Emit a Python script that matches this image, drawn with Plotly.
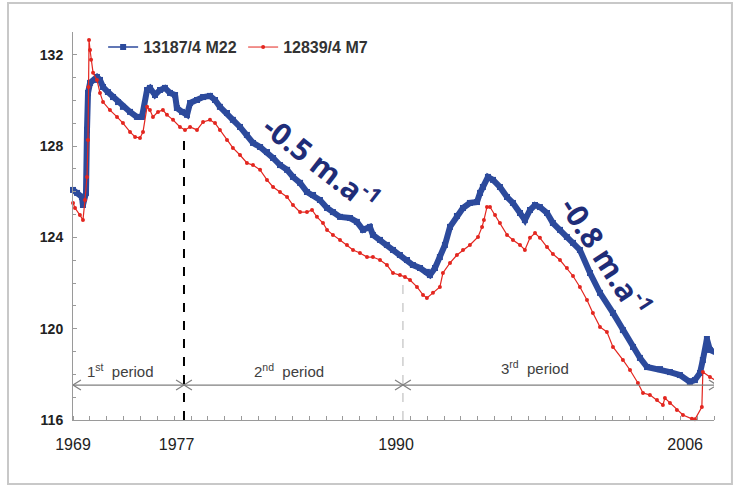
import plotly.graph_objects as go

# ---------------- data ----------------
years_m22 = [1969.00, 1969.24, 1969.53, 1969.59, 1969.77, 1969.83, 1969.89, 1970.01, 1970.30, 1970.42,
             1970.60, 1970.78, 1971.07, 1971.37, 1971.67, 1971.96, 1972.38, 1972.79, 1973.09, 1973.39,
             1973.56, 1973.86, 1974.16, 1974.45, 1974.75, 1975.05, 1975.16, 1975.46, 1975.76, 1975.94,
             1976.35, 1976.71, 1977.12, 1977.42, 1977.71, 1978.13, 1978.48, 1978.90, 1979.31, 1979.67,
             1980.09, 1980.50, 1980.86, 1981.27, 1981.69, 1982.04, 1982.46, 1982.87, 1983.23, 1983.64,
             1984.06, 1984.41, 1984.83, 1985.42, 1985.83, 1986.19, 1986.60, 1986.78, 1987.20, 1987.61,
             1987.97, 1988.38, 1988.80, 1989.15, 1989.57, 1989.98, 1990.16, 1990.46, 1990.75, 1991.05,
             1991.35, 1991.76, 1992.12, 1992.53, 1992.95, 1993.13, 1993.30, 1993.60, 1993.90, 1994.31,
             1994.73, 1995.08, 1995.50, 1995.79, 1996.09, 1996.39, 1996.68, 1997.10, 1997.45, 1997.87,
             1998.28, 1998.64, 1999.05, 1999.65, 2000.24, 2001.01, 2001.60, 2002.20, 2002.61, 2003.03,
             2003.80, 2004.39, 2004.98, 2005.57, 2005.87, 2006.17, 2006.34, 2006.58, 2006.76, 2007.15]
level_m22 = [126.08, 125.95, 125.77, 125.42, 125.95, 128.71, 130.33, 130.77, 130.90, 131.03,
             130.90, 130.59, 130.37, 130.15, 129.93, 129.72, 129.50, 129.28, 129.28, 130.46,
             130.55, 130.24, 130.46, 130.55, 130.33, 130.24, 129.67, 129.50, 129.37, 129.89,
             130.02, 130.15, 130.20, 130.02, 129.72, 129.45, 129.15, 128.84, 128.49, 128.14,
             127.96, 127.74, 127.48, 127.17, 126.96, 126.65, 126.39, 125.99, 125.86, 125.64,
             125.29, 125.11, 124.90, 124.85, 124.68, 124.33, 124.46, 124.11, 123.89, 123.67,
             123.45, 123.23, 123.01, 122.79, 122.66, 122.49, 122.35, 122.66, 123.14, 123.67,
             124.46, 124.94, 125.29, 125.51, 125.55, 125.95, 126.21, 126.65, 126.52, 126.21,
             125.77, 125.51, 125.07, 124.76, 125.20, 125.42, 125.33, 125.07, 124.63, 124.33,
             124.02, 123.76, 123.45, 122.44, 121.57, 120.69, 119.94, 119.20, 118.72, 118.32,
             118.23, 118.10, 117.97, 117.67, 117.75, 118.06, 118.63, 119.55, 119.07, 118.94]

years_m7 = [1969.00, 1969.12, 1969.41, 1969.59, 1969.71, 1969.83, 1969.89, 1969.92, 1969.95, 1970.01,
            1970.07, 1970.19, 1970.42, 1970.60, 1970.78, 1971.19, 1971.61, 1971.96, 1972.38, 1972.68,
            1972.97, 1973.15, 1973.39, 1973.56, 1973.74, 1974.04, 1974.33, 1974.57, 1974.93, 1975.34,
            1975.64, 1975.94, 1976.35, 1976.71, 1977.12, 1977.42, 1977.71, 1978.13, 1978.48, 1978.90,
            1979.31, 1979.67, 1980.09, 1980.50, 1980.86, 1981.27, 1981.69, 1982.04, 1982.46, 1982.87,
            1983.17, 1983.46, 1983.82, 1984.06, 1984.41, 1984.83, 1985.24, 1985.60, 1986.01, 1986.43,
            1986.78, 1987.20, 1987.61, 1987.97, 1988.38, 1988.68, 1988.98, 1989.39, 1989.75, 1989.98,
            1990.34, 1990.75, 1990.93, 1991.35, 1991.76, 1992.12, 1992.53, 1993.01, 1993.25, 1993.36,
            1993.54, 1993.72, 1994.02, 1994.31, 1994.73, 1995.08, 1995.50, 1995.79, 1996.09, 1996.39,
            1996.68, 1997.10, 1997.45, 1997.87, 1998.28, 1998.64, 1999.05, 1999.47, 1999.82, 2000.24,
            2000.65, 2001.01, 2001.60, 2002.02, 2002.49, 2002.79, 2003.20, 2003.62, 2003.97, 2004.09,
            2004.39, 2004.80, 2005.16, 2005.69, 2005.87, 2006.28, 2006.34, 2006.76, 2007.15]
level_m7 = [125.51, 125.29, 124.98, 124.76, 125.64, 126.65, 128.27, 130.59, 132.65, 132.21,
            131.78, 131.21, 130.90, 130.33, 129.93, 129.58, 129.28, 129.01, 128.62, 128.40,
            128.36, 128.62, 129.72, 129.58, 129.28, 129.50, 129.58, 129.37, 129.15, 128.84,
            128.71, 128.84, 128.71, 129.06, 129.15, 129.01, 128.71, 128.27, 127.92, 127.61,
            127.26, 127.17, 126.96, 126.52, 126.21, 125.99, 125.77, 125.42, 125.11, 125.11,
            125.20, 124.90, 124.63, 124.33, 124.11, 123.89, 123.67, 123.45, 123.32, 123.14,
            123.14, 123.01, 122.79, 122.44, 122.35, 122.27, 122.13, 121.83, 121.48, 121.35,
            121.57, 121.83, 122.44, 122.88, 123.23, 123.45, 123.67, 124.02, 124.46, 124.76,
            125.33, 125.33, 124.98, 124.63, 124.11, 123.89, 123.67, 123.45, 123.98, 124.19,
            123.98, 123.58, 123.27, 123.01, 122.66, 122.31, 121.83, 121.26, 120.69, 120.08,
            119.86, 119.20, 118.63, 118.19, 117.62, 117.18, 117.10, 116.88, 116.66, 116.96,
            116.74, 116.44, 116.22, 116.05, 116.03, 116.57, 118.10, 117.88, 117.71]

x_tick_pos = [1969.0, 1975.14, 1988.15, 2005.29]
x_tick_text = ["1969", "1977", "1990", "2006"]
y_tick_vals = [116, 120, 124, 128, 132]

period_bounds = [1975.58, 1988.56]          # period separators (years)
period_line_tops = [128.40, 122.00]         # top of the dashed separators
period_names = ["1<sup>st</sup>  period", "2<sup>nd</sup>  period", "3<sup>rd</sup>  period"]
period_label_x = [1971.79, 1981.80, 1996.39]
period_label_y = [118.15, 118.15, 118.32]
period_arrow_y = 117.53
period_start, period_end = 1969.0, 2007.17

trend_texts = ["-0.5 m.a<sup>-1</sup>", "-0.8 m.a<sup>-1</sup>"]
trend_x = [1983.73, 2000.60]
trend_y = [127.28, 123.20]
trend_angle = [38, 57]

BLUE = "#2c4a9c"
RED = "#e3261f"
NAVY = "#1f2d78"
GREY = "#7f7f7f"
FONT = "Liberation Sans, Arial, sans-serif"

fig = go.Figure()

fig.add_trace(go.Scatter(x=years_m22, y=level_m22, mode="lines+markers",
                         line=dict(color=BLUE, width=6), marker=dict(color=BLUE, size=6, symbol="square"),
                         showlegend=False, cliponaxis=False))
fig.add_trace(go.Scatter(x=years_m7, y=level_m7, mode="lines+markers",
                         line=dict(color=RED, width=1.2), marker=dict(color=RED, size=4),
                         showlegend=False, cliponaxis=False))
# legend-only entries
fig.add_trace(go.Scatter(x=[None], y=[None], mode="lines+markers", name="13187/4 M22",
                         line=dict(color=BLUE, width=1.5), marker=dict(color=BLUE, size=6, symbol="square")))
fig.add_trace(go.Scatter(x=[None], y=[None], mode="lines+markers", name="12839/4 M7",
                         line=dict(color=RED, width=1), marker=dict(color=RED, size=4)))

shapes = []
# dashed period separators
shapes.append(dict(type="line", xref="x", yref="y", x0=period_bounds[0], x1=period_bounds[0],
                   y0=116, y1=period_line_tops[0], line=dict(color="black", width=2, dash="dash")))
shapes.append(dict(type="line", xref="x", yref="y", x0=period_bounds[1], x1=period_bounds[1],
                   y0=116, y1=period_line_tops[1], line=dict(color="#b5b5b5", width=1, dash="dash")))
# horizontal period line
shapes.append(dict(type="line", xref="x", yref="y", x0=period_start, x1=period_end,
                   y0=period_arrow_y, y1=period_arrow_y, line=dict(color=GREY, width=1.2)))
ax_, ay_ = 0.47, 0.22
shapes.append(dict(type="path", xref="x", yref="y",
                   path=f"M{period_start+ax_},{period_arrow_y+ay_} L{period_start},{period_arrow_y} L{period_start+ax_},{period_arrow_y-ay_}",
                   line=dict(color=GREY, width=1.2)))
shapes.append(dict(type="path", xref="x", yref="y",
                   path=f"M{period_end-ax_},{period_arrow_y+ay_} L{period_end},{period_arrow_y} L{period_end-ax_},{period_arrow_y-ay_}",
                   line=dict(color=GREY, width=1.2)))
for b in period_bounds:
    shapes.append(dict(type="path", xref="x", yref="y",
                       path=f"M{b-ax_},{period_arrow_y-ay_} L{b+ax_},{period_arrow_y+ay_} M{b-ax_},{period_arrow_y+ay_} L{b+ax_},{period_arrow_y-ay_}",
                       line=dict(color=GREY, width=1.2)))
# outer frame
shapes.append(dict(type="rect", xref="paper", yref="paper", x0=-0.1014, x1=1.028, y0=-0.165, y1=1.0747,
                   line=dict(color="#c8c8c8", width=2), layer="below"))

annotations = []
for name, px_, py_ in zip(period_names, period_label_x, period_label_y):
    annotations.append(dict(x=px_, y=py_, xref="x", yref="y", text=name, showarrow=False,
                            font=dict(family=FONT, size=15, color="#404040")))
for t, tx, ty, ang in zip(trend_texts, trend_x, trend_y, trend_angle):
    annotations.append(dict(x=tx, y=ty, xref="x", yref="y", text=t, showarrow=False, textangle=ang,
                            font=dict(family="Open Sans, sans-serif", size=30, color=NAVY, weight="bold")))

fig.update_layout(
    width=740, height=486,
    margin=dict(l=73, r=26, t=32, b=66),
    paper_bgcolor="white", plot_bgcolor="white",
    shapes=shapes, annotations=annotations,
    legend=dict(orientation="h", x=0.047, y=0.961, xanchor="left", yanchor="middle",
                font=dict(family=FONT, size=16, color="#333333", weight="bold"),
                entrywidth=95, entrywidthmode="pixels", bgcolor="rgba(0,0,0,0)"),
    xaxis=dict(range=[1969, 2007], showgrid=False, zeroline=False, showline=True, linecolor="#9a9a9a",
               linewidth=1, tickmode="array", tickvals=x_tick_pos, ticktext=x_tick_text, ticks="",
               ticklabelstandoff=10, tickfont=dict(family=FONT, size=16, color="#222222"),
               minor=dict(ticks="inside", tick0=1969, dtick=1, ticklen=4, tickcolor="#9a9a9a")),
    yaxis=dict(range=[116, 133], showgrid=False, zeroline=False, showline=True, linecolor="#9a9a9a",
               linewidth=1, tickmode="array", tickvals=y_tick_vals, ticks="inside", ticklen=4,
               tickcolor="#9a9a9a", ticklabelstandoff=6,
               tickfont=dict(family=FONT, size=14, color="#222222", weight="bold"),
               minor=dict(ticks="inside", tick0=116, dtick=1, ticklen=3, tickcolor="#9a9a9a")),
)

fig.write_html("out.html", config={"displayModeBar": False},
               post_script="document.body.style.margin='0px';")
